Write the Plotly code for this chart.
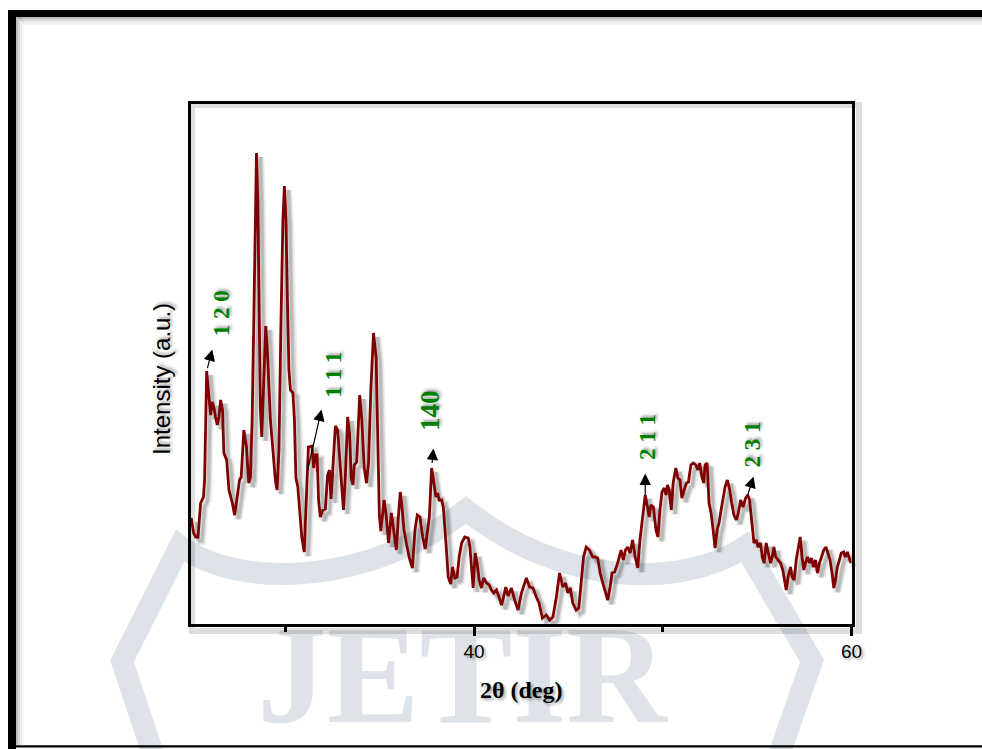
import numpy as np
import plotly.graph_objects as go

# ---------------------------------------------------------------- data
two_theta = [
    25.01, 25.14, 25.25, 25.37, 25.51, 25.66, 25.72, 25.83, 25.95, 26.04,
    26.13, 26.22, 26.30, 26.39, 26.48, 26.57, 26.67, 26.74, 26.89, 27.01,
    27.19, 27.31, 27.45, 27.57, 27.66, 27.80, 27.94, 28.06, 28.15, 28.24,
    28.31, 28.39, 28.47, 28.54, 28.60, 28.68, 28.75, 28.81, 28.88, 28.96,
    29.03, 29.10, 29.21, 29.34, 29.47, 29.56, 29.66, 29.76, 29.87, 29.95,
    30.03, 30.11, 30.19, 30.27, 30.40, 30.48, 30.56, 30.66, 30.77, 30.87,
    31.00, 31.11, 31.22, 31.41, 31.50, 31.59, 31.68, 31.76, 31.85, 31.98,
    32.12, 32.24, 32.34, 32.42, 32.52, 32.65, 32.77, 32.88, 33.01, 33.08,
    33.19, 33.30, 33.40, 33.49, 33.58, 33.65, 33.78, 33.94, 34.05, 34.18,
    34.30, 34.41, 34.53, 34.67, 34.81, 34.89, 34.98, 35.06, 35.23, 35.34,
    35.47, 35.62, 35.73, 35.88, 35.99, 36.09, 36.18, 36.29, 36.43, 36.57,
    36.73, 36.87, 36.99, 37.13, 37.28, 37.41, 37.52, 37.63, 37.75, 37.87,
    37.98, 38.07, 38.15, 38.28, 38.37, 38.51, 38.63, 38.76, 38.86, 38.98,
    39.10, 39.21, 39.34, 39.51, 39.69, 39.78, 39.90, 39.95, 40.06, 40.16,
    40.27, 40.39, 40.51, 40.66, 40.80, 40.92, 41.04, 41.19, 41.32, 41.45,
    41.53, 41.68, 41.80, 41.98, 42.15, 42.33, 42.51, 42.77, 42.94, 43.12,
    43.30, 43.44, 43.62, 43.83, 44.00, 44.18, 44.36, 44.53, 44.70, 44.85,
    44.97, 45.10, 45.23, 45.41, 45.55, 45.68, 45.80, 45.94, 46.11, 46.29,
    46.43, 46.55, 46.68, 46.82, 46.96, 47.08, 47.21, 47.31, 47.45, 47.61,
    47.79, 47.91, 48.02, 48.14, 48.27, 48.40, 48.54, 48.67, 48.79, 48.93,
    49.07, 49.19, 49.28, 49.37, 49.50, 49.64, 49.74, 49.85, 49.96, 50.08,
    50.17, 50.25, 50.34, 50.45, 50.55, 50.69, 50.80, 50.91, 51.01, 51.13,
    51.26, 51.36, 51.49, 51.61, 51.75, 51.86, 51.96, 52.07, 52.17, 52.24,
    52.35, 52.45, 52.56, 52.67, 52.77, 52.88, 52.98, 53.09, 53.19, 53.30,
    53.42, 53.55, 53.65, 53.77, 53.90, 54.00, 54.13, 54.25, 54.39, 54.50,
    54.60, 54.71, 54.83, 54.95, 55.06, 55.18, 55.27, 55.37, 55.48, 55.59,
    55.71, 55.80, 55.89, 55.98, 56.11, 56.24, 56.36, 56.47, 56.54, 56.64,
    56.77, 56.85, 56.96, 57.07, 57.17, 57.28, 57.38, 57.47, 57.56, 57.67,
    57.77, 57.88, 57.98, 58.09, 58.20, 58.30, 58.41, 58.53, 58.65, 58.76,
    58.86, 58.97, 59.06, 59.15, 59.25, 59.36, 59.46, 59.58, 59.67, 59.78,
    59.89, 59.97,
]

intensity = [
    1070, 920, 880, 880, 1220, 1280, 1450, 2540, 2280, 2100,
    2230, 2170, 2080, 2000, 2080, 2250, 2150, 1720, 1650, 1350,
    1220, 1100, 1280, 1450, 1480, 1950, 1780, 1420, 1480, 2050,
    2850, 4050, 4720, 4250, 3050, 2150, 1880, 2200, 2750, 2990,
    2800, 2450, 2050, 1750, 1450, 1350, 1750, 2950, 4050, 4390,
    4050, 3250, 2550, 2350, 2320, 2050, 1470, 1380, 1120, 880,
    730, 1250, 1780, 1790, 1570, 1700, 1700, 1250, 1080, 1150,
    1160, 1500, 1550, 1260, 1600, 1990, 1950, 1650, 1270, 1150,
    1530, 2080, 1920, 1470, 1400, 1600, 1630, 2300, 2050, 1570,
    1420, 1630, 2350, 2920, 2670, 1930, 1100, 940, 1250, 1100,
    820, 1120, 970, 750, 1080, 1330, 1180, 950, 800, 670,
    570, 950, 1100, 1080, 880, 760, 920, 1080, 1570, 1440,
    1280, 1320, 1250, 1250, 1180, 820, 480, 410, 580, 470,
    480, 680, 820, 880, 870, 780, 520, 370, 720, 620,
    450, 370, 470, 420, 400, 350, 320, 350, 280, 200,
    250, 380, 290, 370, 250, 150, 320, 470, 380, 370,
    280, 220, 70, 100, 50, 80, 280, 520, 380, 420,
    320, 370, 220, 150, 170, 450, 680, 780, 750, 680,
    680, 670, 520, 420, 320, 250, 380, 520, 530, 620,
    750, 650, 750, 780, 720, 850, 680, 570, 850, 1080,
    1300, 1180, 1080, 1200, 1180, 950, 880, 1150, 1330, 1370,
    1300, 1400, 1350, 1150, 1420, 1570, 1470, 1450, 1270, 1350,
    1420, 1430, 1600, 1620, 1600, 1550, 1620, 1480, 1420, 1600,
    1620, 1220, 1120, 950, 770, 950, 1020, 1150, 1280, 1380,
    1450, 1350, 1220, 1100, 1050, 1120, 1250, 1180, 1270, 1300,
    1250, 1020, 820, 850, 780, 820, 680, 620, 820, 720,
    620, 680, 780, 680, 650, 620, 550, 450, 350, 480,
    580, 480, 450, 650, 780, 880, 680, 550, 620, 680,
    620, 670, 580, 650, 520, 620, 680, 750, 780, 720,
    650, 520, 370, 450, 580, 650, 720, 730, 680, 730,
    650, 620,
]

# indexed reflections (Miller indices) and their peak positions
peak_labels = ["1 2 0", "1 1 1", "140", "2 1 1", "2 3 1"]
peak_2theta = [25.83, 31.17, 37.75, 49.07, 54.50]

x_ticks = [40, 60]

# ---------------------------------------------------------------- styling
W, H = 982, 749
PLOT_L, PLOT_R, PLOT_T, PLOT_B = 191.0, 851.5, 103.5, 623.5
X_RANGE = [25, 60]
Y_RANGE = [15, 5215]
SHADOW_DX, SHADOW_DY = 4, 4

CURVE_COLOR = "#800000"
HKL_COLOR = "#008000"
WM_COLOR = "#dde3e8"
TEXT_SHADOW = "2px 2px 3px rgba(0,0,0,0.35)"

# arrow (head offset from the peak, px) and label (centre offset, px)
arrow_dx = [6, 14.4, 2, 0, 6.3]
arrow_dy = [-23, -63, -21, -23, -20]
arrow_standoff = [3, 0, 5, 0, 0]
label_dx = [14.5, 25.7, -1.7, 2, 3.8]
label_dy = [-58, -96.5, -58, -58.3, -50]
label_size = [23, 23, 27, 23, 23]


def hdom(a, b):
    return [a / W, b / W]


def vdom(top, bottom):
    return [1 - bottom / H, 1 - top / H]


fig = go.Figure()

# ---- background watermark (pixel-coordinate canvas on x/y)
fig.add_trace(go.Scatter(
    x=[462], y=[687], mode="text", text=["JETIR"],
    textposition="middle center", cliponaxis=False,
    textfont=dict(family="Liberation Serif", size=139, color=WM_COLOR,
                  weight="bold"),
    hoverinfo="skip", showlegend=False, xaxis="x", yaxis="y",
))
fig.add_shape(
    type="path", xref="x", yref="y", layer="below",
    path=("M 160 775 L 122 661 L 180 546 "
          "C 240 590 370 585 466 510 "
          "C 560 585 680 590 745 547 "
          "L 812 661 L 772 775"),
    line=dict(color=WM_COLOR, width=22),
)

# ---- soft drop shadow of the pattern and frame (offset copy on x2/y2)
for w, a in [(8, 0.07), (5, 0.10), (3, 0.12)]:
    fig.add_trace(go.Scatter(
        x=two_theta, y=intensity, mode="lines",
        line=dict(color=f"rgba(0,0,0,{a})", width=w),
        hoverinfo="skip", showlegend=False, xaxis="x2", yaxis="y2",
    ))

# ---- XRD pattern
fig.add_trace(go.Scatter(
    x=two_theta, y=intensity, mode="lines",
    line=dict(color=CURVE_COLOR, width=2.8),
    showlegend=False, xaxis="x3", yaxis="y3",
))

annotations = []
for i, lab in enumerate(peak_labels):
    px = peak_2theta[i]
    py = float(np.interp(px, two_theta, intensity))
    annotations.append(dict(
        x=px, y=py, xref="x3", yref="y3", text="", showarrow=True,
        ax=arrow_dx[i], ay=arrow_dy[i], axref="pixel", ayref="pixel",
        arrowside="start", startarrowhead=2, startarrowsize=1.9,
        arrowwidth=1.2, arrowcolor="black", standoff=arrow_standoff[i],
        startstandoff=0,
    ))
    annotations.append(dict(
        x=px, y=py, xref="x3", yref="y3", text=lab, showarrow=False,
        xshift=label_dx[i], yshift=-label_dy[i], textangle=-90,
        xanchor="center", yanchor="middle",
        font=dict(family="Liberation Serif", size=label_size[i],
                  color=HKL_COLOR, weight="bold", shadow=TEXT_SHADOW),
    ))

# axis titles
annotations.append(dict(
    x=521.5, y=690, xref="x", yref="y", text="2θ (deg)", showarrow=False,
    font=dict(family="Liberation Serif", size=24, color="black",
              weight="bold", shadow=TEXT_SHADOW),
))
annotations.append(dict(
    x=161, y=379, xref="x", yref="y", text="Intensity (a.u.)",
    showarrow=False, textangle=-90,
    font=dict(family="Liberation Sans", size=24, color="black",
              shadow=TEXT_SHADOW),
))

# page frame
shapes = [
    dict(type="rect", xref="x", yref="y", x0=8, x1=982, y0=10, y1=17,
         fillcolor="black", line_width=0, layer="above"),
    dict(type="rect", xref="x", yref="y", x0=8, x1=16, y0=10, y1=749,
         fillcolor="black", line_width=0, layer="above"),
    dict(type="rect", xref="x", yref="y", x0=8, x1=982, y0=745.3, y1=747.5,
         fillcolor="black", line_width=0, layer="above"),
]
for k, a in enumerate([0.25, 0.15, 0.08, 0.035]):
    shapes.append(dict(type="rect", xref="x", yref="y",
                       x0=16 + 2 * k, x1=18 + 2 * k, y0=17, y1=745,
                       fillcolor=f"rgba(0,0,0,{a})", line_width=0,
                       layer="above"))
    shapes.append(dict(type="rect", xref="x", yref="y",
                       x0=18 + 2 * k, x1=982, y0=17 + 2 * k, y1=19 + 2 * k,
                       fillcolor=f"rgba(0,0,0,{a})", line_width=0,
                       layer="above"))
for s in shapes:
    fig.add_shape(**s)

hidden = dict(visible=False, showgrid=False, zeroline=False,
              fixedrange=True, automargin=False)
bare = dict(showgrid=False, zeroline=False, fixedrange=True, automargin=False)

fig.update_layout(
    width=W, height=H, autosize=False,
    margin=dict(l=0, r=0, t=0, b=0, pad=0, autoexpand=False),
    paper_bgcolor="white", plot_bgcolor="rgba(0,0,0,0)",
    showlegend=False,
    annotations=annotations,
    xaxis=dict(domain=[0, 1], range=[0, W], anchor="y", **hidden),
    yaxis=dict(domain=[0, 1], range=[H, 0], anchor="x", **hidden),
    xaxis2=dict(domain=hdom(PLOT_L + SHADOW_DX, PLOT_R + SHADOW_DX),
                range=X_RANGE, anchor="y2", showline=True, mirror=True,
                linecolor="rgba(0,0,0,0.13)", linewidth=6,
                showticklabels=False, ticks="", **bare),
    yaxis2=dict(domain=vdom(PLOT_T + SHADOW_DY, PLOT_B + SHADOW_DY),
                range=Y_RANGE, anchor="x2", showline=True, mirror=True,
                linecolor="rgba(0,0,0,0.13)", linewidth=6,
                showticklabels=False, ticks="", **bare),
    xaxis3=dict(domain=hdom(PLOT_L, PLOT_R), range=X_RANGE, anchor="y3",
                showline=True, mirror=True, linecolor="black", linewidth=3,
                ticks="outside", ticklen=9, tickwidth=3, tickcolor="black",
                tickmode="array", tickvals=x_ticks,
                ticktext=[str(v) for v in x_ticks],
                minor=dict(ticks="outside", ticklen=5, tickwidth=3,
                           tickcolor="black", dtick=10, tick0=0),
                tickfont=dict(family="Liberation Sans", size=19,
                              color="black", shadow=TEXT_SHADOW),
                **bare),
    yaxis3=dict(domain=vdom(PLOT_T, PLOT_B), range=Y_RANGE, anchor="x3",
                showline=True, mirror=True, linecolor="black", linewidth=3,
                ticks="", showticklabels=False, **bare),
)

fig.write_html("out.html")
